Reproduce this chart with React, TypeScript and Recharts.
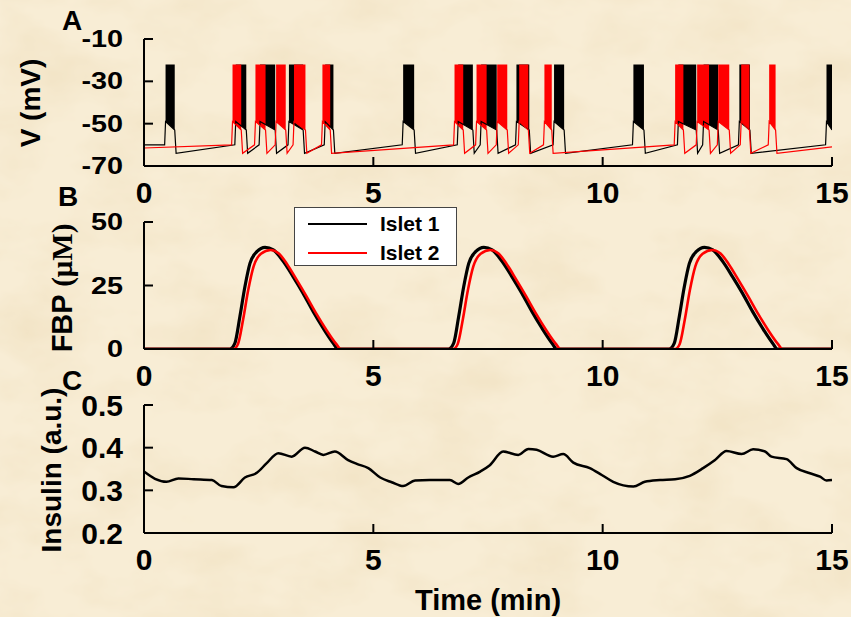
import { ComposedChart, LineChart, Line, Area, XAxis, YAxis, Legend } from 'recharts'

const timeTicks = [0, 5, 10, 15]
const voltageTicks = [-70, -50, -30, -10]
const fbpTicks = [0, 25, 50]
const insulinTicks = [0.2, 0.3, 0.4, 0.5]

// burst start / end (min)
const islet1Bursts = [
  [0.47, 0.67], [2.0, 2.23], [2.53, 2.86], [3.16, 3.47], [3.95, 4.13],
  [5.65, 5.89], [6.85, 7.17], [7.35, 7.69], [8.12, 8.4], [8.94, 9.16],
  [10.67, 10.9], [11.65, 12.04], [12.2, 12.52], [12.98, 13.21], [14.88, 15],
]
const islet2Bursts = [
  [1.93, 2.12], [2.43, 2.65], [2.88, 3.09], [3.27, 3.52], [3.89, 4.06],
  [6.77, 6.96], [7.25, 7.47], [7.7, 7.92], [8.18, 8.38], [8.73, 8.89],
  [11.58, 11.76], [12.06, 12.32], [12.52, 12.76], [13.02, 13.2], [13.63, 13.77],
]

// membrane potential levels (mV)
const spikePeak = -22
const plateauOnset = -49
const plateauEnd = -53
const postBurstMin = -64
const preBurst = -60
const islet1Start = -60
const islet2Start = -61.5
const islet2End = -61

// FBP (uM), [min, value]
const fbpIslet1 = [
  [0, 0], [1.87, 0], [1.98, 2.2], [2.09, 12.7], [2.2, 24.5], [2.31, 33.7], [2.46, 38.3], [2.64, 40],
  [2.82, 39], [3.04, 34.4], [3.25, 28.5], [3.47, 21.9], [3.69, 14.7], [3.91, 8.1], [4.13, 2.2], [4.23, 0],
  [6.64, 0], [6.75, 2.2], [6.86, 12.7], [6.97, 24.5], [7.08, 33.7], [7.23, 38.3], [7.41, 40],
  [7.59, 39], [7.81, 34.4], [8.02, 28.5], [8.24, 21.9], [8.46, 14.7], [8.68, 8.1], [8.9, 2.2], [9.0, 0],
  [11.45, 0], [11.56, 2.2], [11.67, 12.7], [11.78, 24.5], [11.89, 33.7], [12.04, 38.3], [12.22, 40],
  [12.4, 39], [12.62, 34.4], [12.83, 28.5], [13.05, 21.9], [13.27, 14.7], [13.49, 8.1], [13.71, 2.2], [13.81, 0],
  [15, 0],
]
const fbpIslet2 = [
  [0, 0], [1.95, 0], [2.05, 2.0], [2.16, 11.5], [2.27, 23], [2.39, 32.5], [2.55, 37.5], [2.76, 39],
  [2.94, 37.6], [3.12, 33.4], [3.32, 27.5], [3.54, 20.8], [3.76, 13.8], [3.98, 7.4], [4.19, 2.0], [4.29, 0],
  [6.74, 0], [6.84, 2.0], [6.95, 11.5], [7.06, 23], [7.18, 32.5], [7.34, 37.5], [7.55, 39],
  [7.73, 37.6], [7.91, 33.4], [8.11, 27.5], [8.33, 20.8], [8.55, 13.8], [8.77, 7.4], [8.98, 2.0], [9.08, 0],
  [11.58, 0], [11.68, 2.0], [11.79, 11.5], [11.9, 23], [12.02, 32.5], [12.18, 37.5], [12.39, 39],
  [12.57, 37.6], [12.75, 33.4], [12.95, 27.5], [13.17, 20.8], [13.39, 13.8], [13.61, 7.4], [13.82, 2.0], [13.92, 0],
  [15, 0],
]

// insulin (a.u.), [min, value]
const insulin = [
  [0, 0.344], [0.24, 0.327], [0.49, 0.32], [0.75, 0.328], [1.08, 0.326], [1.48, 0.324], [1.69, 0.31],
  [1.95, 0.307], [2.2, 0.33], [2.46, 0.341], [2.67, 0.363], [2.93, 0.387], [3.22, 0.379], [3.51, 0.4],
  [3.73, 0.391], [3.91, 0.383], [4.16, 0.391], [4.45, 0.371], [4.64, 0.362], [4.89, 0.352], [5.15, 0.33],
  [5.4, 0.319], [5.65, 0.31], [5.91, 0.323], [6.23, 0.324], [6.67, 0.324], [6.85, 0.315], [7.07, 0.33],
  [7.33, 0.344], [7.54, 0.359], [7.83, 0.391], [8.16, 0.383], [8.38, 0.397], [8.56, 0.395], [8.92, 0.379],
  [9.14, 0.385], [9.36, 0.365], [9.72, 0.352], [9.98, 0.336], [10.23, 0.32], [10.67, 0.309], [10.92, 0.32],
  [11.25, 0.324], [11.58, 0.326], [11.9, 0.334], [12.19, 0.352], [12.45, 0.371], [12.7, 0.392],
  [13.03, 0.385], [13.28, 0.396], [13.54, 0.391], [13.68, 0.379], [14.01, 0.373], [14.23, 0.352],
  [14.52, 0.34], [14.74, 0.332], [14.88, 0.323], [15, 0.324],
]

const FONT = '"Liberation Sans", Arial, Helvetica, sans-serif'
const W = 851

type Pt = { t: number; v: number | null }
type Band = { t: number; range: [number, number] | null }

// silent-phase trace plus filled spike blocks for one islet
function voltageTrace(bursts: number[][], v0: number, vEnd: number) {
  const trace: Pt[] = [{ t: 0, v: v0 }]
  const bands: Band[] = []
  bursts.forEach(([s, e]) => {
    trace.push({ t: s - 0.02, v: preBurst }, { t: s, v: plateauOnset }, { t: e, v: plateauEnd })
    if (e < 15) trace.push({ t: e + 0.03, v: postBurstMin })
    bands.push({ t: s, range: [plateauOnset, spikePeak] }, { t: e, range: [plateauEnd, spikePeak] }, { t: e, range: null })
  })
  if (bursts[bursts.length - 1][1] < 15) trace.push({ t: 15, v: vEnd })
  return { trace, bands }
}

const islet1V = voltageTrace(islet1Bursts, islet1Start, islet1Start)
const islet2V = voltageTrace(islet2Bursts, islet2Start, islet2End)
const toRows = (pts: number[][]) => pts.map(([t, v]) => ({ t, v }))

function YTick({ x, y, payload, size = 24, stretch = 1, digits = 0 }: any) {
  return (
    <g transform={`translate(${x},${y}) scale(${stretch},1)`}>
      <text textAnchor="end" dominantBaseline="central" fontFamily={FONT} fontWeight="bold" fontSize={size} fill="#000">
        {Number(payload.value).toFixed(digits)}
      </text>
    </g>
  )
}

function XTick({ x, y, payload }: any) {
  return (
    <text x={x} y={y} textAnchor="middle" dominantBaseline="central" fontFamily={FONT} fontWeight="bold" fontSize={30} fill="#000">
      {payload.value}
    </text>
  )
}

function IsletLegend({ payload }: any) {
  return (
    <div style={{ width: 161, height: 56, background: '#fff', border: '1px solid #444', paddingTop: 1 }}>
      {(payload || []).map((p: any) => (
        <div key={p.value} style={{ display: 'flex', alignItems: 'center', height: 29 }}>
          <span style={{ display: 'inline-block', width: 59, height: 2, background: p.color, marginLeft: 13 }} />
          <span style={{ marginLeft: 13, fontFamily: FONT, fontWeight: 'bold', fontSize: 21, color: '#000' }}>{p.value}</span>
        </div>
      ))}
    </div>
  )
}

const chartMargin = { top: 39, right: 19, bottom: 4, left: 0 }
const axisProps = { stroke: '#000', strokeWidth: 2, tickSize: -9, interval: 0 as const }

export default function App() {
  const label = (x: number, y: number, text: React.ReactNode, rotate = false, size = 28) => (
    <text
      transform={`translate(${x},${y})${rotate ? ' rotate(-90)' : ''}`}
      textAnchor="middle"
      dominantBaseline="central"
      fontFamily={FONT}
      fontWeight="bold"
      fontSize={size}
      fill="#000"
    >
      {text}
    </text>
  )

  return (
    <div style={{ position: 'absolute', left: 0, top: 0, width: W, height: 617, background: '#F8EDD5', overflow: 'hidden' }}>
      {/* paper texture */}
      <svg width={W} height={617} style={{ position: 'absolute', left: 0, top: 0 }}>
        <filter id="paper">
          <feTurbulence type="fractalNoise" baseFrequency="0.012 0.02" numOctaves={4} seed={3} />
          <feColorMatrix type="matrix" values="0 0 0 0 0.78  0 0 0 0 0.62  0 0 0 0 0.36  0.55 0 0 0 -0.22" />
        </filter>
        <rect width={W} height={617} filter="url(#paper)" />
      </svg>

      {/* A: membrane potential */}
      <div style={{ position: 'absolute', left: 0, top: 0 }}>
        <ComposedChart width={W} height={210} margin={chartMargin}>
          <XAxis dataKey="t" type="number" domain={[0, 15]} ticks={timeTicks} allowDataOverflow height={40} tickMargin={35} tick={<XTick />} {...axisProps} />
          <YAxis type="number" domain={[-70, -10]} ticks={voltageTicks} allowDataOverflow width={144} tickMargin={30} tick={<YTick size={24} stretch={1.2} />} {...axisProps} />
          <Area data={islet1V.bands} dataKey="range" type="linear" fill="#000" fillOpacity={1} stroke="none" connectNulls={false} isAnimationActive={false} />
          <Line data={islet1V.trace} dataKey="v" type="linear" stroke="#000" strokeWidth={1.2} dot={false} isAnimationActive={false} />
          <Area data={islet2V.bands} dataKey="range" type="linear" fill="#FF0000" fillOpacity={1} stroke="none" connectNulls={false} isAnimationActive={false} />
          <Line data={islet2V.trace} dataKey="v" type="linear" stroke="#FF0000" strokeWidth={1.2} dot={false} isAnimationActive={false} />
        </ComposedChart>
      </div>

      {/* B: FBP */}
      <div style={{ position: 'absolute', left: 0, top: 183 }}>
        <LineChart width={W} height={210} margin={chartMargin}>
          <XAxis dataKey="t" type="number" domain={[0, 15]} ticks={timeTicks} allowDataOverflow height={40} tickMargin={35} tick={<XTick />} {...axisProps} />
          <YAxis type="number" domain={[0, 50]} ticks={fbpTicks} allowDataOverflow width={144} tickMargin={30} tick={<YTick size={24} stretch={1.2} />} {...axisProps} />
          <Legend
            layout="vertical"
            verticalAlign="middle"
            align="center"
            content={<IsletLegend />}
            wrapperStyle={{ left: 294, top: 24, width: 163 }}
          />
          <Line data={toRows(fbpIslet1)} dataKey="v" name="Islet 1" type="monotone" stroke="#000" strokeWidth={3.2} dot={false} isAnimationActive={false} />
          <Line data={toRows(fbpIslet2)} dataKey="v" name="Islet 2" type="monotone" stroke="#FF0000" strokeWidth={2.6} dot={false} isAnimationActive={false} />
        </LineChart>
      </div>

      {/* C: insulin */}
      <div style={{ position: 'absolute', left: 0, top: 366 }}>
        <LineChart width={W} height={211} margin={chartMargin}>
          <XAxis dataKey="t" type="number" domain={[0, 15]} ticks={timeTicks} allowDataOverflow height={40} tickMargin={35} tick={<XTick />} {...axisProps} />
          <YAxis type="number" domain={[0.2, 0.5]} ticks={insulinTicks} allowDataOverflow width={144} tickMargin={30} tick={<YTick size={30} digits={1} />} {...axisProps} />
          <Line data={toRows(insulin)} dataKey="v" type="monotone" stroke="#000" strokeWidth={2.5} dot={false} isAnimationActive={false} />
        </LineChart>
      </div>

      <svg width={W} height={617} style={{ position: 'absolute', left: 0, top: 0, pointerEvents: 'none' }}>
        {label(72, 20, 'A')}
        {label(68, 196, 'B')}
        {label(72, 380, 'C')}
        {label(30, 103, 'V (mV)', true)}
        {label(62, 288, <>FBP <tspan fontFamily={'"Liberation Serif", "DejaVu Serif", serif'}>(μM)</tspan></>, true, 29)}
        {label(51, 470, 'Insulin (a.u.)', true)}
        {label(488, 600, 'Time (min)', false, 29)}
      </svg>
    </div>
  )
}
